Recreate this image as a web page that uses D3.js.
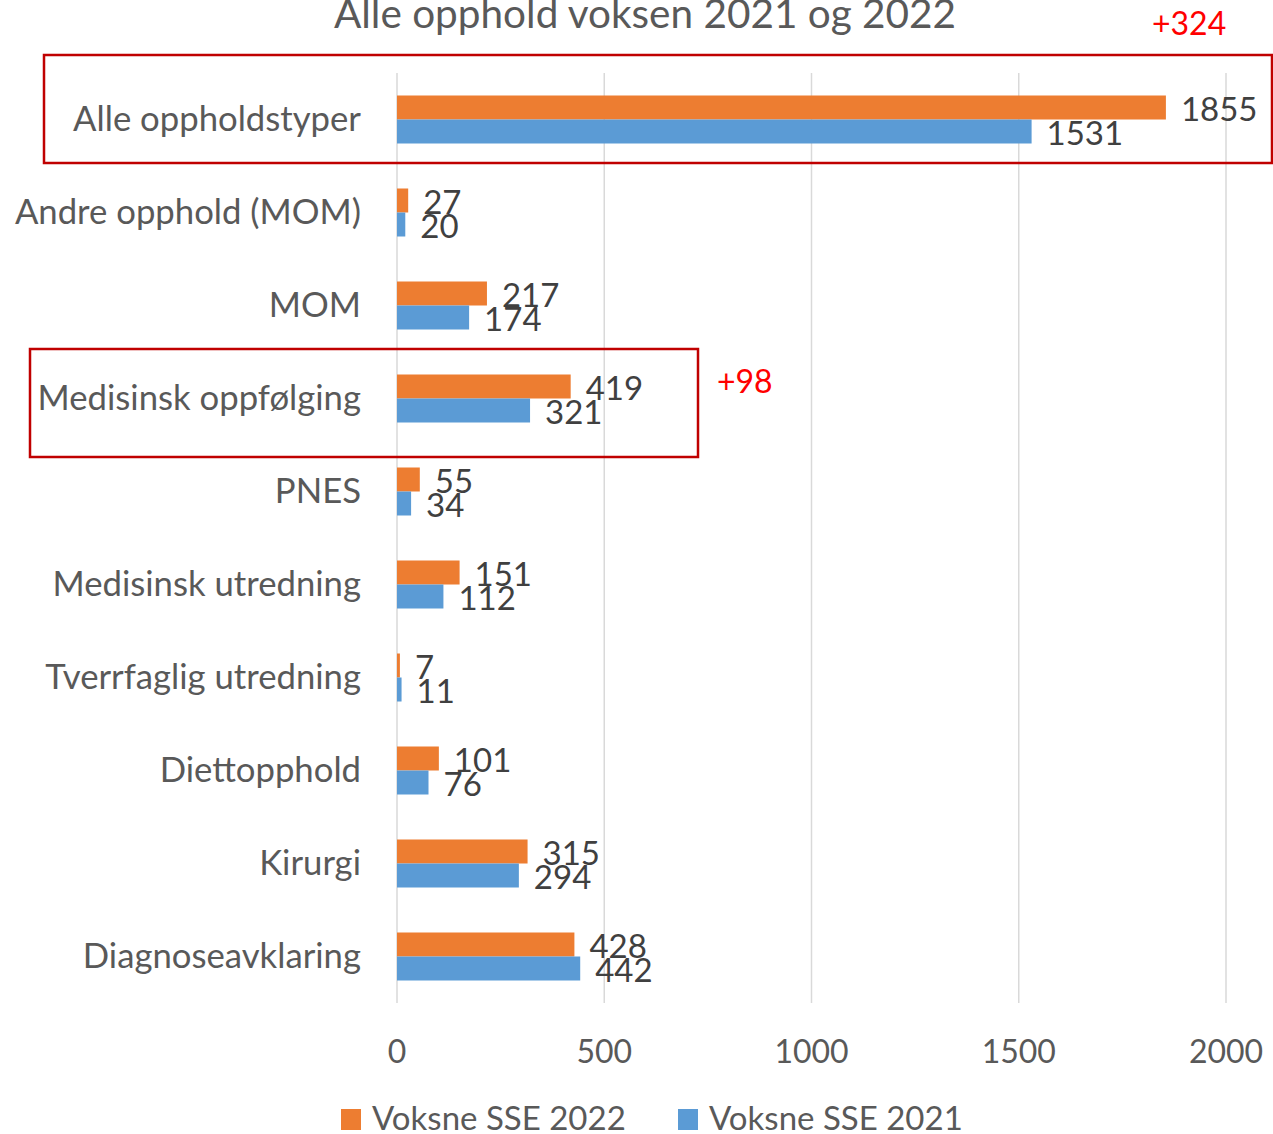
<!DOCTYPE html>
<html>
<head>
<meta charset="utf-8">
<script src="https://cdn.jsdelivr.net/npm/d3@7"></script>
<style>
  body { margin: 0; background: #fff; }
  svg { display: block; font-family: Lato, "Open Sans", sans-serif; }
</style>
</head>
<body>
<svg id="svg" width="1273" height="1134"></svg>
<script>
var categories = ["Alle oppholdstyper", "Andre opphold (MOM)", "MOM", "Medisinsk oppfølging",
                  "PNES", "Medisinsk utredning", "Tverrfaglig utredning", "Diettopphold",
                  "Kirurgi", "Diagnoseavklaring"];
var v2022 = [1855, 27, 217, 419, 55, 151, 7, 101, 315, 428];
var v2021 = [1531, 20, 174, 321, 34, 112, 11, 76, 294, 442];
var ticks = [0, 500, 1000, 1500, 2000];
var seriesNames = ["Voksne SSE 2022", "Voksne SSE 2021"];
var title = "Alle opphold voksen 2021 og 2022";
var notes = [{cat: "Alle oppholdstyper", text: "+324"}, {cat: "Medisinsk oppfølging", text: "+98"}];

var orange = "#ed7d31",
    blue   = "#5b9bd5",
    grey   = "#595959",
    dark   = "#404040",
    grid   = "#d9d9d9",
    red    = "#c00000";

var svg = d3.select("#svg");

var x = d3.scaleLinear().domain([0, 2000]).range([397, 1226]);
var y = d3.scaleBand().domain(categories).range([73, 1003]);
var barH = 24;

// title
svg.append("text")
    .attr("x", 645).attr("y", 28)
    .attr("text-anchor", "middle")
    .attr("font-size", 40.5).attr("fill", grey)
    .text(title);

// gridlines
svg.append("g").selectAll("line").data(ticks).enter()
    .append("line")
    .attr("x1", d => x(d)).attr("x2", d => x(d))
    .attr("y1", 73).attr("y2", 1003)
    .attr("stroke", grid).attr("stroke-width", 1.5);

// tick labels
svg.append("g").selectAll("text").data(ticks).enter()
    .append("text")
    .attr("x", d => x(d)).attr("y", 1063)
    .attr("text-anchor", "middle")
    .attr("font-size", 32).attr("fill", grey)
    .text(d => d);

// category labels
svg.append("g").selectAll("text").data(categories).enter()
    .append("text")
    .attr("x", 361).attr("y", d => y(d) + y.bandwidth()/2 + 11)
    .attr("text-anchor", "end")
    .attr("font-size", 34.7).attr("fill", grey)
    .text(d => d);

var series = [
    {vals: v2022, color: orange, off: -barH},
    {vals: v2021, color: blue,   off: 0}
];

series.forEach(s => {
    var rows = categories.map((c, i) => ({c: c, v: s.vals[i]}));
    var g = svg.append("g");
    g.selectAll("rect").data(rows).enter()
        .append("rect")
        .attr("x", x(0))
        .attr("y", d => y(d.c) + y.bandwidth()/2 + s.off)
        .attr("width", d => x(d.v) - x(0))
        .attr("height", barH)
        .attr("fill", s.color);
    g.selectAll("text").data(rows).enter()
        .append("text")
        .attr("x", d => x(d.v) + 15)
        .attr("y", d => y(d.c) + y.bandwidth()/2 + s.off + barH/2 + 13)
        .attr("font-size", 33).attr("fill", dark)
        .text(d => d.v);
});

// red highlight boxes
var boxes = [[44, 55, 1228, 108], [30, 349, 668, 108]];
svg.append("g").selectAll("rect").data(boxes).enter()
    .append("rect")
    .attr("x", d => d[0]).attr("y", d => d[1])
    .attr("width", d => d[2]).attr("height", d => d[3])
    .attr("fill", "none").attr("stroke", red).attr("stroke-width", 2.5);

var notePos = [[1152, 35], [717, 393]];
svg.append("g").selectAll("text").data(notes).enter()
    .append("text")
    .attr("x", (d, i) => notePos[i][0]).attr("y", (d, i) => notePos[i][1])
    .attr("font-size", 32).attr("fill", "#ff0000")
    .text(d => d.text);

// legend
var legX = [341, 678];
var leg = svg.append("g").selectAll("g").data(seriesNames).enter()
    .append("g").attr("transform", (d, i) => "translate(" + legX[i] + ",1109)");
leg.append("rect").attr("width", 20).attr("height", 21)
    .attr("fill", (d, i) => series[i].color);
leg.append("text").attr("x", 31).attr("y", 21)
    .attr("font-size", 33).attr("fill", grey)
    .text(d => d);
</script>
</body>
</html>
